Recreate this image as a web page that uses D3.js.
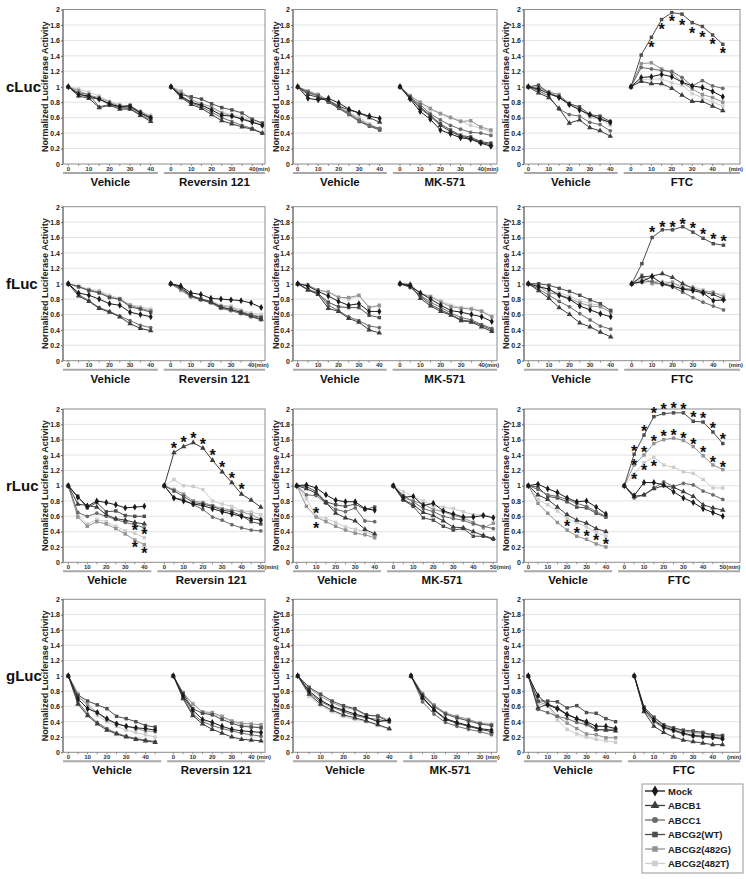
<!DOCTYPE html>
<html><head><meta charset="utf-8">
<script src="https://cdn.jsdelivr.net/npm/d3@7"></script>
<style>body{margin:0;background:#fff}svg{display:block}text{font-family:Arial,"Liberation Sans",sans-serif}</style>
</head><body>
<svg id="chart" width="746" height="879"></svg>
<script>
// ---------------- data ----------------
const seriesNames = ["Mock","ABCB1","ABCC1","ABCG2(WT)","ABCG2(482G)","ABCG2(482T)"];
const rowLabels = ["cLuc","fLuc","rLuc","gLuc"];
const inhibitors = ["Reversin 121","MK-571","FTC"];
const vehicleLabel = "Vehicle";
const yAxisTitle = "Normalized Luciferase Activity";
const yTicks = [0,0.2,0.4,0.6,0.8,1,1.2,1.4,1.6,1.8,2];
const ticks_0_30 = [0,10,20,30];
const ticks_0_40 = [0,10,20,30,40];
const ticks_0_50 = [0,10,20,30,40,50];
const time_0_35 = [0,5,10,15,20,25,30,35];
const time_0_40 = [0,5,10,15,20,25,30,35,40];
const time_0_45 = [0,5,10,15,20,25,30,35,40,45];
const time_0_50 = [0,5,10,15,20,25,30,35,40,45,50];

// order of series in every table: Mock, ABCB1, ABCC1, ABCG2(WT), ABCG2(482G), ABCG2(482T)
const cLuc_veh1 = [
 [1,0.90,0.88,0.84,0.78,0.74,0.74,0.66,0.60],
 [1,0.88,0.85,0.73,0.76,0.71,0.71,0.63,0.55],
 [1,0.92,0.90,0.74,0.77,0.73,0.72,0.64,0.57],
 [1,0.91,0.86,0.84,0.77,0.74,0.76,0.66,0.59],
 [1,0.95,0.89,0.86,0.80,0.75,0.75,0.68,0.61],
 [1,0.97,0.93,0.88,0.81,0.77,0.74,0.68,0.63]];
const cLuc_rev = [
 [1,0.88,0.80,0.76,0.70,0.63,0.62,0.58,0.54,0.50],
 [1,0.86,0.77,0.72,0.64,0.56,0.52,0.48,0.45,0.40],
 [1,0.87,0.79,0.74,0.67,0.60,0.55,0.50,0.46,0.40],
 [1,0.90,0.87,0.84,0.78,0.73,0.70,0.66,0.58,0.53],
 [1,0.93,0.83,0.78,0.74,0.66,0.62,0.59,0.55,0.50],
 [1,0.95,0.84,0.76,0.72,0.67,0.64,0.61,0.57,0.52]];
const cLuc_veh2 = [
 [1,0.85,0.83,0.85,0.79,0.71,0.66,0.62,0.59],
 [1,0.90,0.86,0.82,0.75,0.70,0.66,0.60,0.54],
 [1,0.92,0.88,0.81,0.73,0.65,0.56,0.50,0.46],
 [1,0.93,0.88,0.80,0.72,0.64,0.55,0.49,0.44],
 [1,0.94,0.90,0.82,0.74,0.66,0.58,0.50,0.45],
 [1,0.95,0.90,0.83,0.75,0.67,0.60,0.52,0.46]];
const cLuc_mk = [
 [1,0.84,0.68,0.58,0.44,0.39,0.34,0.32,0.27,0.23],
 [1,0.85,0.72,0.62,0.50,0.42,0.36,0.33,0.28,0.25],
 [1,0.86,0.77,0.65,0.57,0.50,0.45,0.41,0.40,0.37],
 [1,0.87,0.74,0.63,0.52,0.44,0.37,0.35,0.29,0.27],
 [1,0.88,0.80,0.72,0.65,0.60,0.55,0.56,0.48,0.44],
 [1,0.89,0.79,0.70,0.66,0.61,0.56,0.50,0.46,0.42]];
const cLuc_veh3 = [
 [1,0.97,0.91,0.86,0.77,0.70,0.64,0.58,0.54],
 [1,0.92,0.86,0.72,0.53,0.57,0.47,0.43,0.36],
 [1,0.95,0.88,0.71,0.64,0.62,0.54,0.51,0.43],
 [1,1.02,0.92,0.87,0.78,0.74,0.64,0.62,0.55],
 [1,0.99,0.93,0.90,0.77,0.71,0.62,0.60,0.53],
 [1,0.98,0.94,0.89,0.79,0.72,0.60,0.58,0.50]];
const cLuc_ftc = [
 [1,1.12,1.13,1.16,1.13,1.06,1.01,0.99,0.94,0.87],
 [1,1.07,1.04,1.04,0.98,0.89,0.81,0.81,0.75,0.69],
 [1,1.25,1.23,1.21,1.20,1.12,1.01,1.08,1.01,0.98],
 [1,1.41,1.64,1.87,1.96,1.94,1.83,1.78,1.67,1.55],
 [1,1.30,1.31,1.23,1.18,1.06,0.97,0.90,0.86,0.80],
 [1,1.09,1.10,1.10,1.05,1.02,0.91,0.86,0.80,0.75]];
const cLuc_ftc_stars = [[10,1.55],[15,1.78],[20,1.88],[25,1.83],[30,1.73],[35,1.68],[40,1.58],[45,1.47]];

const fLuc_veh1 = [
 [1,0.88,0.85,0.80,0.74,0.72,0.63,0.60,0.57],
 [1,0.84,0.77,0.68,0.63,0.57,0.48,0.42,0.39],
 [1,0.86,0.78,0.69,0.64,0.58,0.52,0.46,0.43],
 [1,0.96,0.91,0.88,0.82,0.80,0.70,0.67,0.63],
 [1,0.96,0.92,0.89,0.83,0.79,0.72,0.68,0.65],
 [1,0.97,0.93,0.91,0.85,0.81,0.73,0.70,0.67]];
const fLuc_rev = [
 [1,0.97,0.88,0.86,0.81,0.80,0.79,0.78,0.75,0.69],
 [1,0.96,0.85,0.80,0.76,0.69,0.67,0.62,0.58,0.54],
 [1,0.93,0.83,0.79,0.75,0.68,0.65,0.61,0.57,0.53],
 [1,0.95,0.84,0.80,0.77,0.70,0.66,0.63,0.59,0.56],
 [1,0.92,0.84,0.79,0.76,0.71,0.69,0.64,0.60,0.57],
 [1,0.91,0.83,0.80,0.78,0.72,0.71,0.66,0.62,0.60]];
const fLuc_veh2 = [
 [1,0.97,0.90,0.84,0.77,0.72,0.74,0.64,0.64],
 [1,0.92,0.86,0.68,0.64,0.55,0.50,0.40,0.36],
 [1,0.93,0.88,0.72,0.65,0.57,0.52,0.45,0.43],
 [1,0.92,0.87,0.76,0.70,0.69,0.69,0.59,0.56],
 [1,0.98,0.92,0.89,0.82,0.82,0.85,0.69,0.72],
 [1,0.99,0.91,0.90,0.83,0.80,0.84,0.70,0.70]];
const fLuc_mk = [
 [1,0.97,0.88,0.80,0.72,0.65,0.63,0.60,0.57,0.51],
 [1,0.99,0.81,0.71,0.64,0.59,0.52,0.50,0.44,0.38],
 [1,0.95,0.85,0.76,0.69,0.62,0.56,0.53,0.47,0.42],
 [1,0.96,0.84,0.73,0.66,0.60,0.53,0.51,0.46,0.40],
 [1,0.98,0.87,0.83,0.76,0.70,0.68,0.67,0.64,0.57],
 [1,0.99,0.88,0.84,0.78,0.72,0.69,0.68,0.65,0.58]];
const fLuc_veh3 = [
 [1,0.96,0.93,0.85,0.80,0.71,0.66,0.61,0.57],
 [1,0.91,0.81,0.69,0.60,0.49,0.44,0.37,0.31],
 [1,0.93,0.85,0.77,0.70,0.61,0.53,0.45,0.41],
 [1,1.00,0.98,0.94,0.90,0.85,0.79,0.74,0.65],
 [1,0.97,0.88,0.86,0.81,0.75,0.71,0.70,0.63],
 [1,0.99,0.92,0.88,0.84,0.78,0.74,0.72,0.66]];
const fLuc_ftc = [
 [1,1.03,1.09,1.00,0.97,0.93,0.91,0.88,0.78,0.79],
 [1,1.09,1.10,1.13,1.08,1.00,0.94,0.89,0.86,0.80],
 [1,1.02,1.03,0.99,0.96,0.89,0.82,0.76,0.71,0.66],
 [1,1.26,1.60,1.70,1.70,1.74,1.67,1.59,1.52,1.50],
 [1,1.11,1.00,1.00,1.02,0.94,0.93,0.90,0.89,0.83],
 [1,1.06,1.03,1.03,1.01,0.97,0.96,0.92,0.88,0.86]];
const fLuc_ftc_stars = [[10,1.70],[15,1.77],[20,1.77],[25,1.81],[30,1.76],[35,1.68],[40,1.61],[45,1.59]];

const rLuc_veh1 = [
 [1,0.85,0.73,0.80,0.78,0.75,0.71,0.72,0.73],
 [1,0.76,0.74,0.72,0.62,0.57,0.55,0.52,0.50],
 [1,0.65,0.60,0.64,0.60,0.56,0.52,0.49,0.45],
 [1,0.86,0.71,0.78,0.66,0.67,0.61,0.60,0.60],
 [1,0.59,0.47,0.53,0.50,0.44,0.37,0.29,0.23],
 [1,0.62,0.50,0.56,0.53,0.47,0.41,0.38,0.32]];
const rLuc_veh1_stars = [[35,0.46],[40,0.40],[35,0.23],[40,0.16]];
const rLuc_rev = [
 [1,0.84,0.80,0.76,0.74,0.70,0.66,0.63,0.60,0.57,0.55],
 [1,1.43,1.51,1.56,1.49,1.33,1.18,1.04,0.89,0.81,0.72],
 [1,0.84,0.82,0.75,0.69,0.59,0.55,0.49,0.45,0.42,0.41],
 [1,0.93,0.86,0.78,0.76,0.73,0.68,0.66,0.61,0.53,0.50],
 [1,0.95,0.89,0.80,0.78,0.74,0.70,0.68,0.66,0.62,0.56],
 [1,1.08,1.00,0.99,0.95,0.80,0.76,0.73,0.67,0.66,0.62]];
const rLuc_rev_stars = [[5,1.53],[10,1.60],[15,1.65],[20,1.57],[25,1.43],[30,1.28],[35,1.13],[40,0.99]];
const rLuc_veh2 = [
 [1,1.01,0.97,0.88,0.81,0.79,0.79,0.70,0.68],
 [1,0.96,0.90,0.78,0.64,0.58,0.54,0.43,0.37],
 [1,0.88,0.87,0.77,0.69,0.66,0.71,0.54,0.53],
 [1,0.99,0.92,0.79,0.75,0.73,0.76,0.69,0.72],
 [1,0.73,0.59,0.53,0.47,0.42,0.38,0.36,0.32],
 [1,0.83,0.60,0.57,0.52,0.46,0.43,0.40,0.35]];
const rLuc_veh2_stars = [[10,0.68],[10,0.48]];
const rLuc_mk = [
 [1,0.85,0.86,0.74,0.77,0.67,0.63,0.59,0.59,0.61,0.58],
 [1,0.82,0.75,0.65,0.61,0.54,0.46,0.45,0.40,0.35,0.31],
 [1,0.87,0.79,0.70,0.66,0.60,0.57,0.55,0.50,0.47,0.44],
 [1,0.81,0.73,0.58,0.55,0.47,0.42,0.44,0.34,0.34,0.30],
 [1,0.84,0.80,0.76,0.69,0.66,0.61,0.58,0.52,0.45,0.51],
 [1,0.92,0.86,0.80,0.74,0.72,0.70,0.66,0.62,0.62,0.59]];
const rLuc_veh3 = [
 [1,1.02,0.96,0.91,0.84,0.79,0.80,0.72,0.63],
 [1,0.88,0.82,0.72,0.62,0.55,0.51,0.44,0.40],
 [1,0.95,0.88,0.86,0.82,0.77,0.73,0.66,0.60],
 [1,0.98,0.86,0.84,0.79,0.72,0.71,0.64,0.59],
 [1,0.77,0.64,0.52,0.42,0.34,0.30,0.24,0.20],
 [1,0.82,0.75,0.67,0.57,0.52,0.46,0.39,0.34]];
const rLuc_veh3_stars = [[20,0.51],[25,0.42],[30,0.38],[35,0.33],[40,0.27]];
const rLuc_ftc = [
 [1,0.87,1.04,1.04,1.01,0.92,0.84,0.78,0.70,0.65,0.60],
 [1,0.86,0.88,0.96,1.00,0.98,0.92,0.86,0.75,0.71,0.68],
 [1,0.84,0.88,0.97,1.05,0.99,1.03,1.01,0.93,0.88,0.82],
 [1,1.41,1.66,1.90,1.94,1.95,1.95,1.84,1.83,1.70,1.55],
 [1,1.27,1.40,1.55,1.60,1.62,1.59,1.51,1.39,1.27,1.21],
 [1,1.15,1.30,1.37,1.27,1.24,1.18,1.16,1.08,0.97,0.97]];
const rLuc_ftc_stars = [[5,1.49],[5,1.30],[5,1.12],[10,1.75],[10,1.47],[10,1.24],[15,1.98],[15,1.62],[15,1.29],
 [20,2.03],[20,1.68],[25,2.04],[25,1.69],[30,2.03],[30,1.66],[35,1.93],[35,1.57],[40,1.92],[40,1.47],[45,1.79],[45,1.34],[50,1.64],[50,1.28]];

const gLuc_veh1 = [
 [1,0.70,0.57,0.52,0.44,0.37,0.34,0.32,0.31,0.29],
 [1,0.63,0.48,0.37,0.29,0.24,0.20,0.17,0.15,0.13],
 [1,0.66,0.50,0.39,0.31,0.25,0.21,0.18,0.16,0.14],
 [1,0.75,0.67,0.62,0.57,0.47,0.44,0.40,0.35,0.33],
 [1,0.73,0.62,0.52,0.42,0.38,0.34,0.31,0.28,0.27],
 [1,0.78,0.60,0.48,0.40,0.34,0.29,0.26,0.23,0.20]];
const gLuc_rev = [
 [1,0.74,0.55,0.43,0.39,0.34,0.30,0.28,0.27,0.26],
 [1,0.70,0.48,0.37,0.30,0.25,0.20,0.17,0.16,0.15],
 [1,0.72,0.50,0.40,0.35,0.31,0.28,0.25,0.23,0.21],
 [1,0.77,0.57,0.51,0.49,0.43,0.38,0.34,0.33,0.32],
 [1,0.78,0.63,0.53,0.52,0.47,0.41,0.38,0.37,0.36],
 [1,0.76,0.64,0.52,0.50,0.46,0.40,0.36,0.34,0.33]];
const gLuc_veh2 = [
 [1,0.80,0.68,0.60,0.55,0.50,0.46,0.40,0.42],
 [1,0.76,0.63,0.55,0.49,0.45,0.41,0.36,0.31],
 [1,0.78,0.66,0.59,0.53,0.48,0.45,0.43,0.40],
 [1,0.85,0.76,0.67,0.61,0.57,0.49,0.47,0.40],
 [1,0.84,0.73,0.65,0.59,0.56,0.48,0.48,0.42],
 [1,0.73,0.61,0.53,0.47,0.43,0.40,0.35,0.30]];
const gLuc_mk = [
 [1,0.72,0.56,0.44,0.39,0.35,0.31,0.29],
 [1,0.71,0.55,0.43,0.38,0.34,0.30,0.27],
 [1,0.66,0.50,0.39,0.34,0.30,0.27,0.23],
 [1,0.75,0.60,0.50,0.45,0.41,0.37,0.35],
 [1,0.77,0.62,0.51,0.47,0.43,0.38,0.36],
 [1,0.76,0.61,0.52,0.46,0.42,0.39,0.37]];
const gLuc_veh3 = [
 [1,0.74,0.62,0.57,0.49,0.44,0.40,0.34,0.34,0.31],
 [1,0.58,0.63,0.58,0.50,0.44,0.38,0.30,0.29,0.28],
 [1,0.56,0.52,0.47,0.44,0.39,0.36,0.29,0.30,0.30],
 [1,0.67,0.67,0.66,0.58,0.61,0.52,0.51,0.44,0.40],
 [1,0.66,0.62,0.47,0.38,0.31,0.24,0.23,0.19,0.19],
 [1,0.63,0.61,0.42,0.30,0.24,0.20,0.17,0.15,0.13]];
const gLuc_ftc = [
 [1,0.57,0.42,0.33,0.29,0.25,0.22,0.21,0.20,0.18],
 [1,0.53,0.34,0.26,0.20,0.16,0.14,0.12,0.10,0.10],
 [1,0.54,0.40,0.32,0.28,0.24,0.21,0.20,0.19,0.17],
 [1,0.59,0.46,0.36,0.32,0.29,0.28,0.26,0.23,0.22],
 [1,0.57,0.45,0.35,0.31,0.28,0.26,0.25,0.22,0.21],
 [1,0.55,0.43,0.34,0.30,0.27,0.25,0.23,0.21,0.20]];

// ---------------- layout / style ----------------
const rowTop = [9.5, 206.7, 409, 599.3];
const rowBottom = [164, 360.7, 562.3, 752.3];
const colLeft = [63, 293, 524];
const colRight = [265, 497, 740];
const yTitleX = [45, 275.5, 505.5];
// per row, per col: [vehicle x0, vehicle px/min, inhibitor x0, inhibitor px/min]
const subLayout = [
 [[68.3,2.06,171,2.03],[297.7,2.05,400,2.02],[528.3,2.05,631,2.04]],
 [[68.3,2.06,170.7,2.01],[297.7,2.04,400,2.04],[528.3,2.06,631.7,2.04]],
 [[68.3,1.9,164.3,1.93],[296.7,1.95,393.3,2.0],[528.3,1.94,624.3,1.97]],
 [[68.3,1.93,173.3,1.95],[297.7,2.29,411,2.3],[528.3,1.94,634.3,1.96]]];
const colors = ["#1a1a1a","#3d3d3d","#6c6c6c","#4e4e4e","#939393","#cdcdcd"];
const symbols = [d3.symbolDiamond, d3.symbolTriangle, d3.symbolCircle, d3.symbolSquare, d3.symbolSquare, d3.symbolSquare];
const symSize = [14, 13, 11, 12, 12, 12];

const panels = [
 {r:0,c:0,vD:cLuc_veh1,vT:time_0_40,iD:cLuc_rev,iT:time_0_45,iTicks:ticks_0_40,minAt:40,minDx:3.5,vS:[],iS:[]},
 {r:0,c:1,vD:cLuc_veh2,vT:time_0_40,iD:cLuc_mk,iT:time_0_45,iTicks:ticks_0_40,minAt:40,minDx:3.5,vS:[],iS:[]},
 {r:0,c:2,vD:cLuc_veh3,vT:time_0_40,iD:cLuc_ftc,iT:time_0_45,iTicks:ticks_0_40,minAt:47.9,minDx:0,vS:[],iS:cLuc_ftc_stars},
 {r:1,c:0,vD:fLuc_veh1,vT:time_0_40,iD:fLuc_rev,iT:time_0_45,iTicks:ticks_0_40,minAt:40,minDx:3.5,vS:[],iS:[]},
 {r:1,c:1,vD:fLuc_veh2,vT:time_0_40,iD:fLuc_mk,iT:time_0_45,iTicks:ticks_0_40,minAt:40,minDx:3.5,vS:[],iS:[]},
 {r:1,c:2,vD:fLuc_veh3,vT:time_0_40,iD:fLuc_ftc,iT:time_0_45,iTicks:ticks_0_40,minAt:47.6,minDx:0,vS:[],iS:fLuc_ftc_stars},
 {r:2,c:0,vD:rLuc_veh1,vT:time_0_40,iD:rLuc_rev,iT:time_0_50,iTicks:ticks_0_50,minAt:50,minDx:3.5,vS:rLuc_veh1_stars,iS:rLuc_rev_stars},
 {r:2,c:1,vD:rLuc_veh2,vT:time_0_40,iD:rLuc_mk,iT:time_0_50,iTicks:ticks_0_50,minAt:50,minDx:3.5,vS:rLuc_veh2_stars,iS:[]},
 {r:2,c:2,vD:rLuc_veh3,vT:time_0_40,iD:rLuc_ftc,iT:time_0_50,iTicks:ticks_0_50,minAt:50,minDx:3.5,vS:rLuc_veh3_stars,iS:rLuc_ftc_stars},
 {r:3,c:0,vD:gLuc_veh1,vT:time_0_45,iD:gLuc_rev,iT:time_0_45,iTicks:ticks_0_40,minAt:40,minDx:5.5,vS:[],iS:[]},
 {r:3,c:1,vD:gLuc_veh2,vT:time_0_40,iD:gLuc_mk,iT:time_0_35,iTicks:ticks_0_30,minAt:30,minDx:5.5,vS:[],iS:[]},
 {r:3,c:2,vD:gLuc_veh3,vT:time_0_45,iD:gLuc_ftc,iT:time_0_45,iTicks:ticks_0_40,minAt:47.3,minDx:0,vS:[],iS:[]}];

const svg = d3.select("#chart");
const fmt = v => (Math.round(v*10)/10).toString();

rowLabels.forEach((lab, r) => {
  const y = d3.scaleLinear().domain([0,2]).range([rowBottom[r], rowTop[r]]);
  svg.append("text").attr("x", 6).attr("y", y(1)).attr("dominant-baseline","central")
    .attr("font-size", 15).attr("font-weight","bold").attr("fill","#111").text(lab);
});

function drawSub(g, xs, ys, data, times, ticks, stars, bottom, minAt, minDx) {
  g.selectAll(null).data(times).enter().append("line")
    .attr("x1", d=>xs(d)).attr("x2", d=>xs(d)).attr("y1", bottom).attr("y2", bottom+2)
    .attr("stroke","#777").attr("stroke-width",0.8);
  g.selectAll(null).data(ticks).enter().append("text")
    .attr("x", d=>xs(d)).attr("y", bottom+4.7).attr("dominant-baseline","central")
    .attr("text-anchor","middle").attr("font-size",6).attr("font-weight","bold").attr("fill","#333").text(d=>d);
  if (minAt !== null) {
    g.append("text").attr("x", xs(minAt)+minDx).attr("y", bottom+4.7).attr("dominant-baseline","central")
      .attr("font-size",5.8).attr("font-weight","bold").attr("fill","#333").text("(min)");
  }
  const line = d3.line().x((d,i)=>xs(times[i])).y(d=>ys(d));
  for (let s = data.length-1; s >= 0; s--) {
    g.append("path").attr("d", line(data[s])).attr("fill","none").attr("stroke", colors[s]).attr("stroke-width",1);
    g.selectAll(null).data(data[s]).enter().append("path")
      .attr("transform",(d,i)=>`translate(${xs(times[i])},${ys(d)})`)
      .attr("d", d3.symbol().type(symbols[s]).size(symSize[s])).attr("fill", colors[s]);
  }
  g.selectAll(null).data(stars).enter().append("text")
    .attr("x", d=>xs(d[0])).attr("y", d=>ys(d[1])+8.5).attr("text-anchor","middle")
    .attr("font-size",16).attr("font-weight","bold").attr("fill","#111").text("*");
}

panels.forEach(p => {
  const g = svg.append("g");
  const x0 = colLeft[p.c], x1 = colRight[p.c];
  const top = rowTop[p.r], bottom = rowBottom[p.r];
  const ys = d3.scaleLinear().domain([0,2]).range([bottom, top]);
  const L = subLayout[p.r][p.c];
  const vMax = p.vT[p.vT.length-1], iMax = p.iT[p.iT.length-1];
  const xv = d3.scaleLinear().domain([0, vMax]).range([L[0], L[0]+vMax*L[1]]);
  const xi = d3.scaleLinear().domain([0, iMax]).range([L[2], L[2]+iMax*L[3]]);
  g.selectAll(null).data(yTicks.slice(1,-1)).enter().append("line")
    .attr("x1", x0).attr("x2", x1).attr("y1", d=>ys(d)).attr("y2", d=>ys(d))
    .attr("stroke","#dcdcdc").attr("stroke-width",0.8);
  g.append("rect").attr("x", x0).attr("y", top).attr("width", x1-x0).attr("height", bottom-top)
    .attr("fill","none").attr("stroke","#8c8c8c").attr("stroke-width",1);
  g.append("line").attr("x1",x0).attr("x2",x0).attr("y1",top).attr("y2",bottom).attr("stroke","#666").attr("stroke-width",1);
  const yAxis = d3.axisLeft(ys).tickValues(yTicks).tickSize(2).tickFormat(fmt);
  const ya = g.append("g").attr("transform",`translate(${x0},0)`).call(yAxis);
  ya.select(".domain").remove();
  ya.selectAll("line").attr("stroke","#666");
  ya.selectAll("text").attr("font-size",7).attr("font-weight","bold").attr("fill","#222")
    .attr("font-family","Arial, 'Liberation Sans', sans-serif").attr("x",-3).attr("dy","0.33em");
  g.append("text").attr("transform",`translate(${yTitleX[p.c]},${ys(1)}) rotate(-90)`)
    .attr("text-anchor","middle").attr("dominant-baseline","central")
    .attr("font-size",9).attr("font-weight","bold").attr("fill","#222").text(yAxisTitle);
  const mid = (xv(vMax) + xi(0)) / 2;
  const segs = [[x0, mid-3, vehicleLabel],[mid+3, x1, inhibitors[p.c]]];
  segs.forEach(s => {
    g.append("line").attr("x1", s[0]).attr("x2", s[1]).attr("y1", bottom+9).attr("y2", bottom+9)
      .attr("stroke","#a8a8a8").attr("stroke-width",2);
    g.append("text").attr("x",(s[0]+s[1])/2).attr("y", bottom+22).attr("text-anchor","middle")
      .attr("font-size",11.5).attr("font-weight","bold").attr("fill","#111").text(s[2]);
  });
  drawSub(g, xv, ys, p.vD, p.vT, ticks_0_40, p.vS, bottom, null, 0);
  drawSub(g, xi, ys, p.iD, p.iT, p.iTicks, p.iS, bottom, p.minAt, p.minDx);
});

// legend
const lg = svg.append("g");
const legX = 642, legY = 784, legW = 101, legH = 89, legStep = 14.5;
lg.append("rect").attr("x",legX).attr("y",legY).attr("width",legW).attr("height",legH)
  .attr("fill","#fff").attr("stroke","#999").attr("stroke-width",1);
seriesNames.forEach((n,i) => {
  const y = legY + 7 + i*legStep;
  lg.append("line").attr("x1",legX+3).attr("x2",legX+23).attr("y1",y).attr("y2",y).attr("stroke",colors[i]).attr("stroke-width",1.3);
  lg.append("path").attr("transform",`translate(${legX+13},${y})`)
    .attr("d", d3.symbol().type(symbols[i]).size(symSize[i]*2.6)).attr("fill",colors[i]);
  lg.append("text").attr("x",legX+26).attr("y",y).attr("dominant-baseline","central")
    .attr("font-size",9.5).attr("font-weight","bold").attr("fill","#222").text(n);
});
</script>
</body></html>
